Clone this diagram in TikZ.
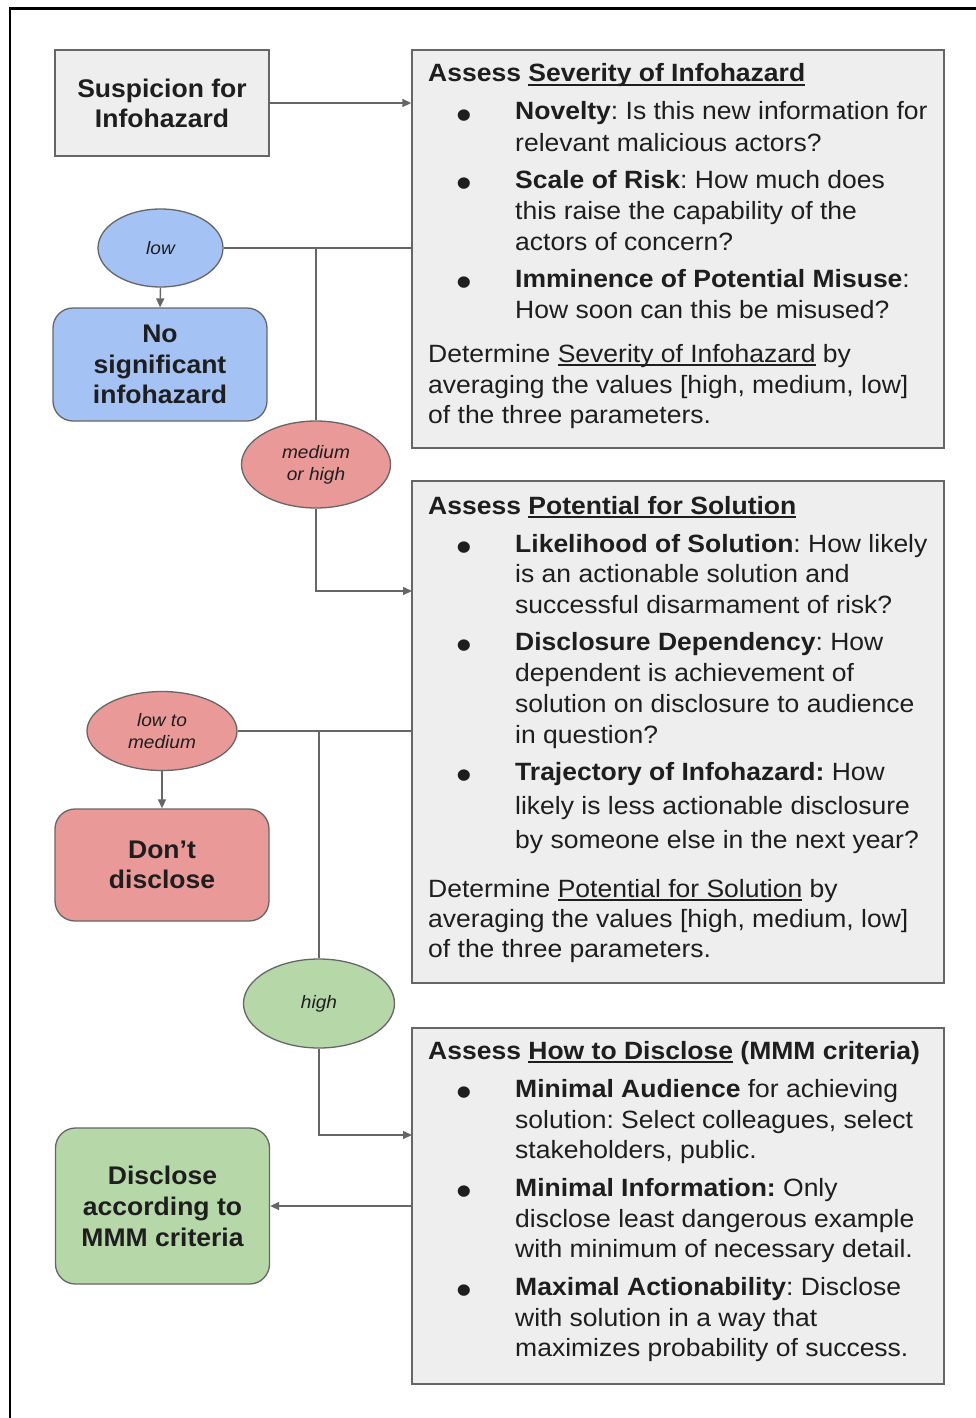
\documentclass[tikz,border=0pt]{standalone}
\usepackage{fontspec}
\setmainfont{Liberation Sans}[FakeStretch=1.06]
\newfontfamily\labelfont{Liberation Sans}[FakeStretch=1.04]
\usetikzlibrary{shapes.geometric,arrows.meta}

\definecolor{boxgray}{HTML}{EEEEEE}
\definecolor{edgegray}{HTML}{666666}
\definecolor{inkgray}{HTML}{1E1E1E}
\definecolor{lowblue}{HTML}{A4C2F4}
\definecolor{midred}{HTML}{EA9999}
\definecolor{highgreen}{HTML}{B6D7A8}

\frenchspacing

% underline at a fixed depth below the baseline
\newsavebox\ulinebox
\newcommand\uline[1]{\sbox\ulinebox{#1}\rlap{\rule[-4pt]{\wd\ulinebox}{1.6pt}}\usebox\ulinebox}

\tikzset{
  every node/.style={text=inkgray},
  panel/.style={draw=edgegray, fill=boxgray, line width=1.4pt, inner sep=0pt},
  outcome/.style={draw=edgegray, line width=1.3pt, rounded corners=20pt, inner sep=0pt,
    minimum width=214pt, align=center, font=\labelfont\fontsize{25.5}{30.5}\selectfont\bfseries},
  verdict/.style={ellipse, draw=edgegray, line width=1.3pt, inner sep=0pt, align=center,
    font=\fontsize{18}{22}\selectfont\itshape},
  txt/.style={anchor=base west, inner sep=0pt, font=\fontsize{25}{31}\selectfont},
  dotmark/.style={anchor=base, inner sep=0pt, font=\fontsize{42}{42}\selectfont},
  link/.style={draw=edgegray, line width=1.4pt},
  arr/.style={link, -{Triangle[length=9pt,width=8pt]}},
}

% one line of panel text, placed on its baseline
\newcommand\tl[4]{\node[txt] (#1) at (#2,#3) {#4};}
% a list bullet beside the line whose baseline is given
\newcommand\bl[2]{\node[dotmark] (#1) at (464,#2+9) {•};}

\begin{document}
\begin{tikzpicture}[x=1pt,y=-1pt]
\useasboundingbox (0,0) rectangle (976,1418);

% frame
\draw[black, line width=2.6pt] (976,8.5) -- (10,8.5) -- (10,1418);

% panels
\node[panel, minimum width=532pt, minimum height=398pt] (sev) at (678,249) {};
\node[panel, minimum width=532pt, minimum height=502pt] (pot) at (678,732) {};
\node[panel, minimum width=532pt, minimum height=356pt] (how) at (678,1206) {};

% start box
\node[panel, minimum width=214pt, minimum height=106pt, align=center,
      font=\labelfont\fontsize{25.5}{30}\selectfont\bfseries] (susp) at (162,103)
      {Suspicion for\\Infohazard};

% verdict ellipses
\node[verdict, fill=lowblue, minimum width=125pt, minimum height=78pt] (low) at (160.5,248) {low};
\node[verdict, fill=midred, minimum width=149pt, minimum height=87pt] (medhigh) at (316,464.5) {medium\\or high};
\node[verdict, fill=midred, minimum width=150pt, minimum height=79pt] (lowmed) at (162,731) {low to\\medium};
\node[verdict, fill=highgreen, minimum width=151pt, minimum height=89pt] (high) at (319,1003.5) {high};

% outcomes
\node[outcome, fill=lowblue, minimum height=113pt] (nosig) at (160,364.5) {No\\significant\\infohazard};
\node[outcome, fill=midred, minimum height=112pt] (dont) at (162,865) {Don’t\\disclose};
\node[outcome, fill=highgreen, minimum height=156pt, font=\labelfont\fontsize{25.5}{31}\selectfont\bfseries] (disc) at (162.5,1206) {Disclose\\according to\\MMM criteria};

% panel 1 text
\tl{s0}{428}{82}{\textbf{Assess \uline{Severity of Infohazard}}}
\bl{sb1}{120}
\tl{s1}{515}{120}{\textbf{Novelty}: Is this new information for}
\tl{s2}{515}{151}{relevant malicious actors?}
\bl{sb2}{188}
\tl{s3}{515}{188}{\textbf{Scale of Risk}: How much does}
\tl{s4}{515}{219}{this raise the capability of the}
\tl{s5}{515}{250}{actors of concern?}
\bl{sb3}{287}
\tl{s6}{515}{287}{\textbf{Imminence of Potential Misuse}:}
\tl{s7}{515}{318}{How soon can this be misused?}
\tl{s8}{428}{362}{Determine \uline{Severity of Infohazard} by}
\tl{s9}{428}{393}{averaging the values [high, medium, low]}
\tl{s10}{428}{423}{of the three parameters.}

% panel 2 text
\tl{p0}{428}{514}{\textbf{Assess \uline{Potential for Solution}}}
\bl{pb1}{552}
\tl{p1}{515}{552}{\textbf{Likelihood of Solution}: How likely}
\tl{p2}{515}{582}{is an actionable solution and}
\tl{p3}{515}{613}{successful disarmament of risk?}
\bl{pb2}{650}
\tl{p4}{515}{650}{\textbf{Disclosure Dependency}: How}
\tl{p5}{515}{681}{dependent is achievement of}
\tl{p6}{515}{712}{solution on disclosure to audience}
\tl{p7}{515}{743}{in question?}
\bl{pb3}{780}
\tl{p8}{515}{780}{\textbf{Trajectory of Infohazard:} How}
\tl{p9}{515}{814}{likely is less actionable disclosure}
\tl{p10}{515}{848}{by someone else in the next year?}
\tl{p11}{428}{897}{Determine \uline{Potential for Solution} by}
\tl{p12}{428}{927}{averaging the values [high, medium, low]}
\tl{p13}{428}{957}{of the three parameters.}

% panel 3 text
\tl{h0}{428}{1059}{\textbf{Assess \uline{How to Disclose} (MMM criteria)}}
\bl{hb1}{1097}
\tl{h1}{515}{1097}{\textbf{Minimal Audience} for achieving}
\tl{h2}{515}{1128}{solution: Select colleagues, select}
\tl{h3}{515}{1158}{stakeholders, public.}
\bl{hb2}{1196}
\tl{h4}{515}{1196}{\textbf{Minimal Information:} Only}
\tl{h5}{515}{1227}{disclose least dangerous example}
\tl{h6}{515}{1257}{with minimum of necessary detail.}
\bl{hb3}{1295}
\tl{h7}{515}{1295}{\textbf{Maximal Actionability}: Disclose}
\tl{h8}{515}{1326}{with solution in a way that}
\tl{h9}{515}{1356}{maximizes probability of success.}

% connectors
\coordinate (j1) at (316,248);
\coordinate (j2) at (319,731);
\coordinate (in2) at (412,591);
\coordinate (in3) at (412,1135);

\draw[arr] (susp.east) -- (susp.east -| sev.west);
\draw[link] (sev.west |- low.east) -- (low.east);
\draw[link] (j1) -- (medhigh.north);
\draw[arr] (low.south) -- (nosig.north);
\draw[arr] (medhigh.south) |- (in2);
\draw[link] (pot.west |- lowmed.east) -- (lowmed.east);
\draw[link] (j2) -- (high.north);
\draw[arr] (lowmed.south) -- (dont.north);
\draw[arr] (high.south) |- (in3);
\draw[arr] (how.west |- disc.east) -- (disc.east);
\end{tikzpicture}
\end{document}
